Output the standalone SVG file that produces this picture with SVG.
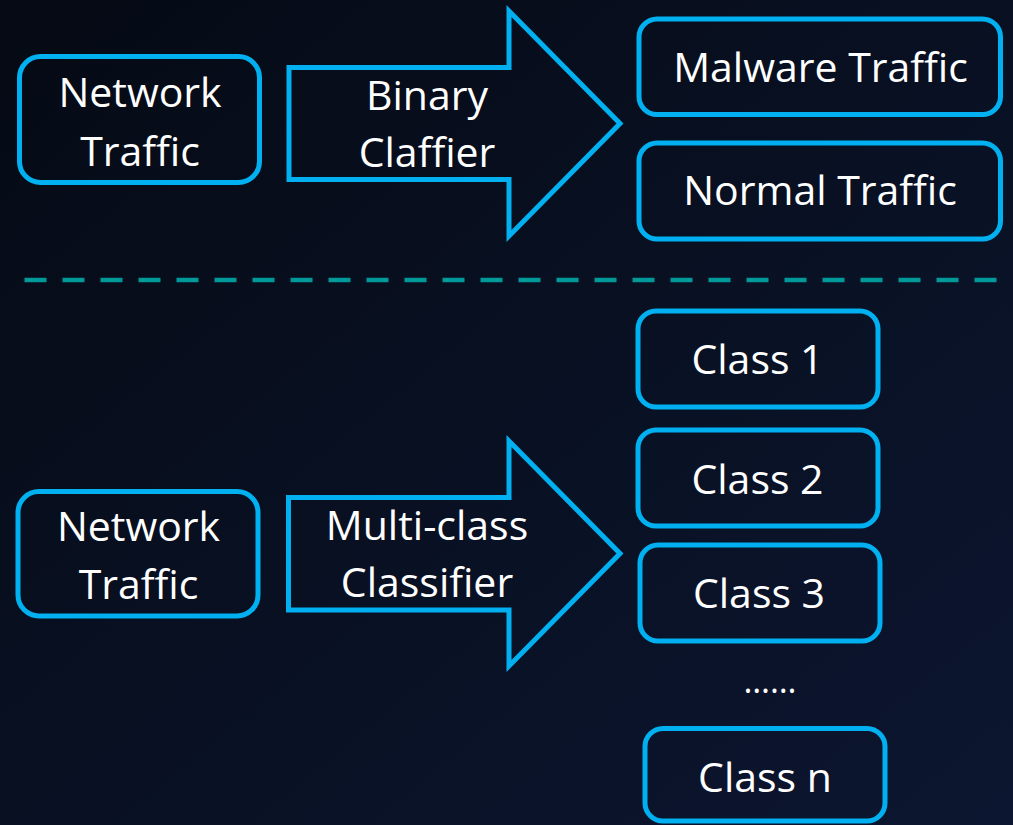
<svg xmlns="http://www.w3.org/2000/svg" width="1013" height="825" viewBox="0 0 1013 825">
  <defs>
    <linearGradient id="bg" x1="0" y1="0" x2="1" y2="1">
      <stop offset="0" stop-color="#050a14"/>
      <stop offset="1" stop-color="#0c1630"/>
    </linearGradient>
    <style>
      .box { fill: none; stroke: #00b0f0; stroke-width: 5; }
      .arrow { fill: none; stroke: #00b0f0; stroke-width: 5; stroke-linejoin: miter; stroke-miterlimit: 10; }
      .t { font-family: "Open Sans", "Liberation Sans", sans-serif; font-size: 41px; fill: #ffffff; text-anchor: middle; }
      .sep { stroke: #009999; stroke-width: 4.5; stroke-dasharray: 22 16; fill: none; }
    </style>
  </defs>
  <rect x="0" y="0" width="1013" height="825" fill="url(#bg)"/>

  <g id="separator">
    <line class="sep" x1="24.5" y1="280" x2="998" y2="280"/>
  </g>

  <g id="connectors">
    <g id="binary-classifier">
      <path class="arrow" d="M289,67.5 L509,67.5 L509,11 L620,123.5 L509,236 L509,179.5 L289,179.5 Z"/>
      <text class="t" x="427" y="110">Binary</text>
      <text class="t" x="427" y="167">Claffier</text>
    </g>
    <g id="multiclass-classifier">
      <path class="arrow" d="M288.5,497.5 L509,497.5 L509,441 L620,553.5 L509,666 L509,610 L288.5,610 Z"/>
      <text class="t" x="427" y="540">Multi-class</text>
      <text class="t" x="427" y="597">Classifier</text>
    </g>
  </g>

  <g id="network-traffic-1">
    <rect class="box" x="19.5" y="56.5" width="240" height="126" rx="21"/>
    <text class="t" x="140" y="107">Network</text>
    <text class="t" x="140" y="166">Traffic</text>
  </g>
  <g id="malware-traffic">
    <rect class="box" x="639" y="19" width="361.5" height="95.5" rx="18"/>
    <text class="t" x="820.5" y="82">Malware Traffic</text>
  </g>
  <g id="normal-traffic">
    <rect class="box" x="639" y="143" width="361.5" height="96" rx="18"/>
    <text class="t" x="820" y="205">Normal Traffic</text>
  </g>

  <g id="network-traffic-2">
    <rect class="box" x="18" y="491.5" width="240" height="124.5" rx="21"/>
    <text class="t" x="138.5" y="541">Network</text>
    <text class="t" x="138.5" y="599">Traffic</text>
  </g>
  <g id="class-1">
    <rect class="box" x="638" y="311" width="240" height="96" rx="18"/>
    <text class="t" x="757.5" y="374">Class 1</text>
  </g>
  <g id="class-2">
    <rect class="box" x="638" y="430" width="240" height="96" rx="18"/>
    <text class="t" x="757.5" y="494">Class 2</text>
  </g>
  <g id="class-3">
    <rect class="box" x="640" y="545" width="240" height="96" rx="18"/>
    <text class="t" x="759" y="608">Class 3</text>
  </g>
  <g id="ellipsis">
    <text class="t" x="770" y="693" style="font-size:34px">……</text>
  </g>
  <g id="class-n">
    <rect class="box" x="645" y="728.5" width="240" height="92.5" rx="18"/>
    <text class="t" x="765" y="792">Class n</text>
  </g>
</svg>
